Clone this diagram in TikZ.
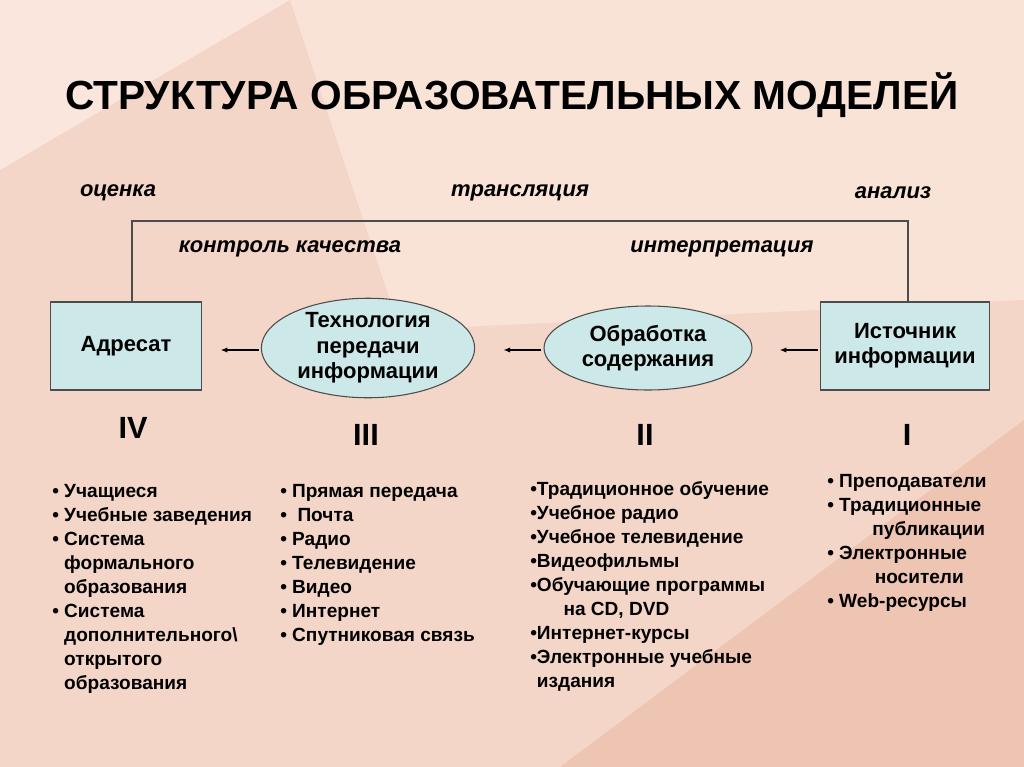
\documentclass[tikz,border=0pt]{standalone}
\usepackage{fontspec}
\setmainfont{Liberation Sans}
\begin{document}
\begin{tikzpicture}[x=0.75pt,y=-0.75pt,
 box/.style={draw=black!70,fill={rgb,255:red,204;green,232;blue,232},line width=0.8pt,font=\bfseries\fontsize{16.5}{19}\selectfont,align=center},
 ell/.style={ellipse,draw=black!70,fill={rgb,255:red,204;green,232;blue,232},line width=0.8pt,font=\bfseries\fontsize{16.5}{19}\selectfont,align=center,inner sep=0pt},
 lab/.style={font=\bfseries\itshape\fontsize{16.5}{18}\selectfont},
 rom/.style={font=\bfseries\fontsize{23}{25}\selectfont},
 lst/.style={font=\bfseries\fontsize{14.3}{18}\selectfont,align=left,anchor=north west,inner sep=0pt},
 arr/.style={-{Latex[length=5pt,width=4pt]},line width=0.8pt}]
\usetikzlibrary{shapes.geometric,arrows.meta}
\fill[color={rgb,255:red,244;green,214;blue,200}] (0,0) rectangle (1024,767);
\fill[color={rgb,255:red,250;green,230;blue,220}] (0,0) -- (290,0) -- (0,170) -- cycle;
\fill[color={rgb,255:red,249;green,226;blue,214}] (290,0) -- (1024,0) -- (1024,300) -- (400,330) -- cycle;
\fill[color={rgb,255:red,238;green,196;blue,178}] (560,767) -- (1024,420) -- (1024,767) -- cycle;
\useasboundingbox (0,0) rectangle (1024,767);
\node[font=\bfseries\fontsize{30.5}{32}\selectfont] (t) at (512,95) {СТРУКТУРА ОБРАЗОВАТЕЛЬНЫХ МОДЕЛЕЙ};
\node[lab] (l1) at (118,193) {оценка};
\node[lab] (l2) at (520,193) {трансляция};
\node[lab] (l3) at (893,193) {анализ};
\node[lab] (l4) at (290,249) {контроль качества};
\node[lab] (l5) at (722,249) {интерпретация};
\node[box,minimum width=113pt,minimum height=66pt] (a) at (126,346) {Адресат};
\node[box,minimum width=127pt,minimum height=66pt] (s) at (905,346) {Источник\\информации};
\node[ell,minimum width=160pt,minimum height=70pt] (e1) at (368,348) {Технология\\передачи\\информации};
\node[ell,minimum width=156pt,minimum height=63pt] (e2) at (648,348) {Обработка\\содержания};
\draw[line width=0.8pt,draw=black!70] (132,302) -- (132,221) -- (908,221) -- (908,302);
\draw[arr] (s.west)++(-2,4) -- ++(-38,0);
\draw[arr] (e2.west)++(-2,2) -- ++(-38,0);
\draw[arr] (e1.west)++(-2,2) -- ++(-38,0);
\node[rom] (r4) at (133,428) {IV};
\node[rom] (r3) at (366,435) {III};
\node[rom] (r2) at (645,435) {II};
\node[rom] (r1) at (907,435) {I};
\node[lst] (L4) at (52,484) {• Учащиеся\\• Учебные заведения\\• Система\\\phantom{• }формального\\\phantom{• }образования\\• Система\\\phantom{• }дополнительного\textbackslash\\\phantom{• }открытого\\\phantom{• }образования};
\node[lst] (L3) at (280,484) {• Прямая передача\\•\ \ Почта\\• Радио\\• Телевидение\\• Видео\\• Интернет\\• Спутниковая связь};
\node[lst] (L2) at (530,481) {•Традиционное обучение\\•Учебное радио\\•Учебное телевидение\\•Видеофильмы\\•Обучающие программы\\\phantom{•Об}на CD, DVD\\•Интернет-курсы\\•Электронные учебные\\\phantom{•}издания};
\node[lst] (L1) at (827,474) {• Преподаватели\\• Традиционные\\\phantom{• Тра}публикации\\• Электронные\\\phantom{• Эле}носители\\• Web-ресурсы};
\end{tikzpicture}
\end{document}
